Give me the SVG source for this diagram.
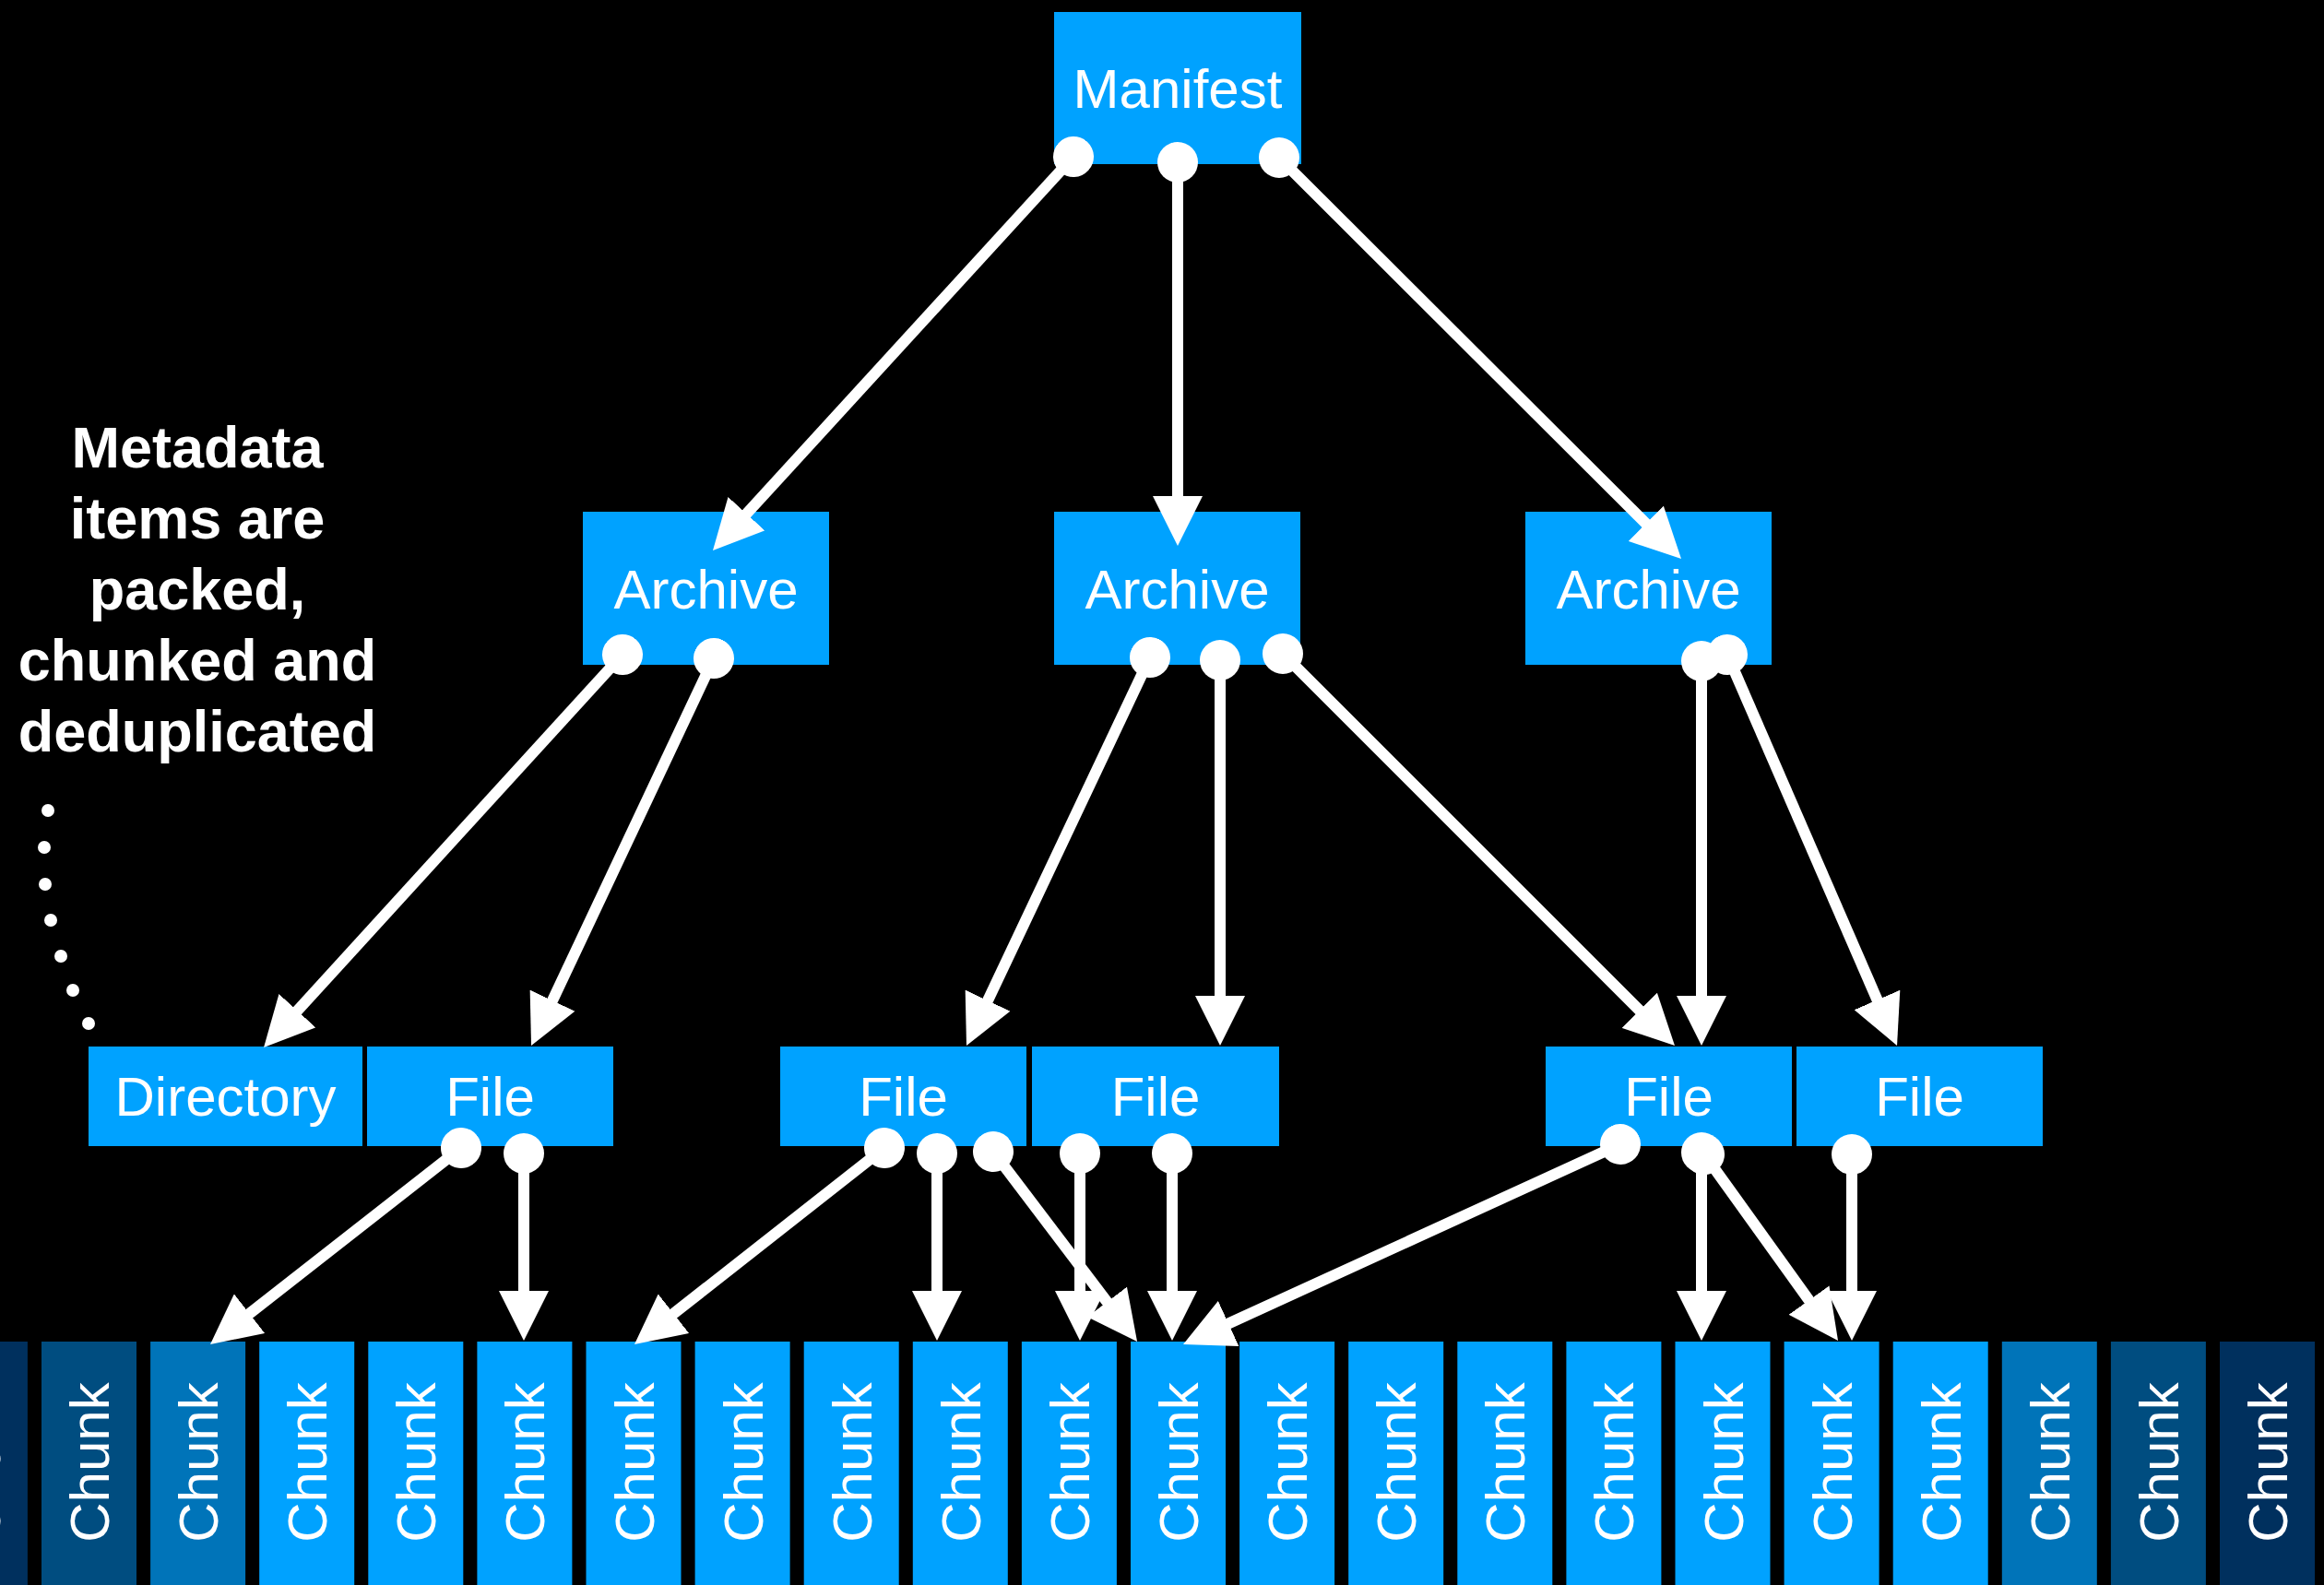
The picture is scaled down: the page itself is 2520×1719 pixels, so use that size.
<svg xmlns="http://www.w3.org/2000/svg" width="2520" height="1719" viewBox="0 0 2520 1719">
<defs>
<style>
.node{fill:#00A2FF}
.c1{fill:#0074B9}
.c2{fill:#004D80}
.c3{fill:#00305E}
.lbl{font-family:"Liberation Sans",Arial,Helvetica,sans-serif;font-size:60px;fill:#fff;text-anchor:middle}
.note{font-family:"Liberation Sans",Arial,Helvetica,sans-serif;font-size:63px;font-weight:bold;fill:#fff;text-anchor:middle}
.conn line{stroke:#fff;stroke-width:12;marker-start:url(#dot);marker-end:url(#arrow)}
</style>
<marker id="arrow" viewBox="0 0 54 54" refX="14" refY="27" markerWidth="54" markerHeight="54" markerUnits="userSpaceOnUse" orient="auto">
<path d="M0,0 L54,27 L0,54 Z" fill="#fff"/>
</marker>
<marker id="dot" viewBox="0 0 44 44" refX="22" refY="22" markerWidth="44" markerHeight="44" markerUnits="userSpaceOnUse" orient="auto">
<circle cx="22" cy="22" r="22" fill="#fff"/>
</marker>
</defs>
<rect x="0" y="0" width="2520" height="1719" fill="#000"/>

<g id="manifest"><rect class="node" x="1143" y="13" width="268" height="165"/><text class="lbl" x="1277" y="117">Manifest</text></g>
<g id="archive1"><rect class="node" x="632" y="555" width="267" height="166"/><text class="lbl" x="765.5" y="660">Archive</text></g>
<g id="archive2"><rect class="node" x="1143" y="555" width="267" height="166"/><text class="lbl" x="1276.5" y="660">Archive</text></g>
<g id="archive3"><rect class="node" x="1654" y="555" width="267" height="166"/><text class="lbl" x="1787.5" y="660">Archive</text></g>

<g id="directory"><rect class="node" x="96" y="1135" width="297" height="108"/><text class="lbl" x="244.5" y="1210">Directory</text></g>
<g id="file1"><rect class="node" x="398" y="1135" width="267" height="108"/><text class="lbl" x="531.5" y="1210">File</text></g>
<g id="file2"><rect class="node" x="846" y="1135" width="267" height="108"/><text class="lbl" x="979.5" y="1210">File</text></g>
<g id="file3"><rect class="node" x="1119" y="1135" width="268" height="108"/><text class="lbl" x="1253" y="1210">File</text></g>
<g id="file4"><rect class="node" x="1676" y="1135" width="267" height="108"/><text class="lbl" x="1809.5" y="1210">File</text></g>
<g id="file5"><rect class="node" x="1948" y="1135" width="267" height="108"/><text class="lbl" x="2081.5" y="1210">File</text></g>

<g id="chunks">
<g id="chunk0"><rect class="c3" x="-73.1" y="1455" width="103" height="270"/><text class="lbl" transform="translate(-0.1,1586) rotate(-90)">Chunk</text></g>
<g id="chunk1"><rect class="c2" x="45" y="1455" width="103" height="270"/><text class="lbl" transform="translate(118,1586) rotate(-90)">Chunk</text></g>
<g id="chunk2"><rect class="c1" x="163.1" y="1455" width="103" height="270"/><text class="lbl" transform="translate(236.1,1586) rotate(-90)">Chunk</text></g>
<g id="chunk3"><rect class="node" x="281.2" y="1455" width="103" height="270"/><text class="lbl" transform="translate(354.2,1586) rotate(-90)">Chunk</text></g>
<g id="chunk4"><rect class="node" x="399.3" y="1455" width="103" height="270"/><text class="lbl" transform="translate(472.3,1586) rotate(-90)">Chunk</text></g>
<g id="chunk5"><rect class="node" x="517.4" y="1455" width="103" height="270"/><text class="lbl" transform="translate(590.4,1586) rotate(-90)">Chunk</text></g>
<g id="chunk6"><rect class="node" x="635.5" y="1455" width="103" height="270"/><text class="lbl" transform="translate(708.5,1586) rotate(-90)">Chunk</text></g>
<g id="chunk7"><rect class="node" x="753.6" y="1455" width="103" height="270"/><text class="lbl" transform="translate(826.6,1586) rotate(-90)">Chunk</text></g>
<g id="chunk8"><rect class="node" x="871.7" y="1455" width="103" height="270"/><text class="lbl" transform="translate(944.7,1586) rotate(-90)">Chunk</text></g>
<g id="chunk9"><rect class="node" x="989.8" y="1455" width="103" height="270"/><text class="lbl" transform="translate(1062.8,1586) rotate(-90)">Chunk</text></g>
<g id="chunk10"><rect class="node" x="1107.9" y="1455" width="103" height="270"/><text class="lbl" transform="translate(1180.9,1586) rotate(-90)">Chunk</text></g>
<g id="chunk11"><rect class="node" x="1226" y="1455" width="103" height="270"/><text class="lbl" transform="translate(1299,1586) rotate(-90)">Chunk</text></g>
<g id="chunk12"><rect class="node" x="1344.1" y="1455" width="103" height="270"/><text class="lbl" transform="translate(1417.1,1586) rotate(-90)">Chunk</text></g>
<g id="chunk13"><rect class="node" x="1462.2" y="1455" width="103" height="270"/><text class="lbl" transform="translate(1535.2,1586) rotate(-90)">Chunk</text></g>
<g id="chunk14"><rect class="node" x="1580.3" y="1455" width="103" height="270"/><text class="lbl" transform="translate(1653.3,1586) rotate(-90)">Chunk</text></g>
<g id="chunk15"><rect class="node" x="1698.4" y="1455" width="103" height="270"/><text class="lbl" transform="translate(1771.4,1586) rotate(-90)">Chunk</text></g>
<g id="chunk16"><rect class="node" x="1816.5" y="1455" width="103" height="270"/><text class="lbl" transform="translate(1889.5,1586) rotate(-90)">Chunk</text></g>
<g id="chunk17"><rect class="node" x="1934.6" y="1455" width="103" height="270"/><text class="lbl" transform="translate(2007.6,1586) rotate(-90)">Chunk</text></g>
<g id="chunk18"><rect class="node" x="2052.7" y="1455" width="103" height="270"/><text class="lbl" transform="translate(2125.7,1586) rotate(-90)">Chunk</text></g>
<g id="chunk19"><rect class="c1" x="2170.8" y="1455" width="103" height="270"/><text class="lbl" transform="translate(2243.8,1586) rotate(-90)">Chunk</text></g>
<g id="chunk20"><rect class="c2" x="2288.9" y="1455" width="103" height="270"/><text class="lbl" transform="translate(2361.9,1586) rotate(-90)">Chunk</text></g>
<g id="chunk21"><rect class="c3" x="2407" y="1455" width="103" height="270"/><text class="lbl" transform="translate(2480,1586) rotate(-90)">Chunk</text></g>
</g>

<g id="note">
<text class="note" x="214" y="507">Metadata</text>
<text class="note" x="214" y="584">items are</text>
<text class="note" x="214" y="661">packed,</text>
<text class="note" x="214" y="738">chunked and</text>
<text class="note" x="214" y="815">deduplicated</text>
<g fill="#fff">
<circle cx="52" cy="879" r="7"/><circle cx="48" cy="919" r="7"/><circle cx="49" cy="959" r="7"/><circle cx="55" cy="998" r="7"/><circle cx="66" cy="1037" r="7"/><circle cx="79" cy="1074" r="7"/><circle cx="96" cy="1110" r="7"/>
</g>
</g>

<g id="connectors" class="conn">
<line x1="1164" y1="170" x2="800" y2="567.5"/>
<line x1="1277" y1="176" x2="1277" y2="552"/>
<line x1="1387" y1="171" x2="1794.7" y2="577.7"/>
<line x1="675" y1="710" x2="313" y2="1106.5"/>
<line x1="774" y1="714" x2="593.1" y2="1097.8"/>
<line x1="1247" y1="713" x2="1065.1" y2="1097.8"/>
<line x1="1323" y1="716" x2="1323" y2="1094"/>
<line x1="1391" y1="709" x2="1787.7" y2="1105.7"/>
<line x1="1845" y1="717" x2="1845" y2="1094"/>
<line x1="1873" y1="710" x2="2041.1" y2="1097.3"/>
<line x1="500" y1="1245" x2="259.5" y2="1433.3"/>
<line x1="568" y1="1251" x2="568" y2="1414"/>
<line x1="959" y1="1245" x2="719.4" y2="1433.3"/>
<line x1="1016" y1="1251" x2="1016" y2="1414"/>
<line x1="1077" y1="1249" x2="1208.9" y2="1423.1"/>
<line x1="1171" y1="1251" x2="1171" y2="1414"/>
<line x1="1271" y1="1251" x2="1271" y2="1414"/>
<line x1="1757" y1="1241" x2="1319.4" y2="1441.3"/>
<line x1="1845" y1="1250" x2="1845" y2="1414"/>
<line x1="1848" y1="1252" x2="1969.7" y2="1421.5"/>
<line x1="2008" y1="1252" x2="2008" y2="1414"/>
</g>
</svg>
